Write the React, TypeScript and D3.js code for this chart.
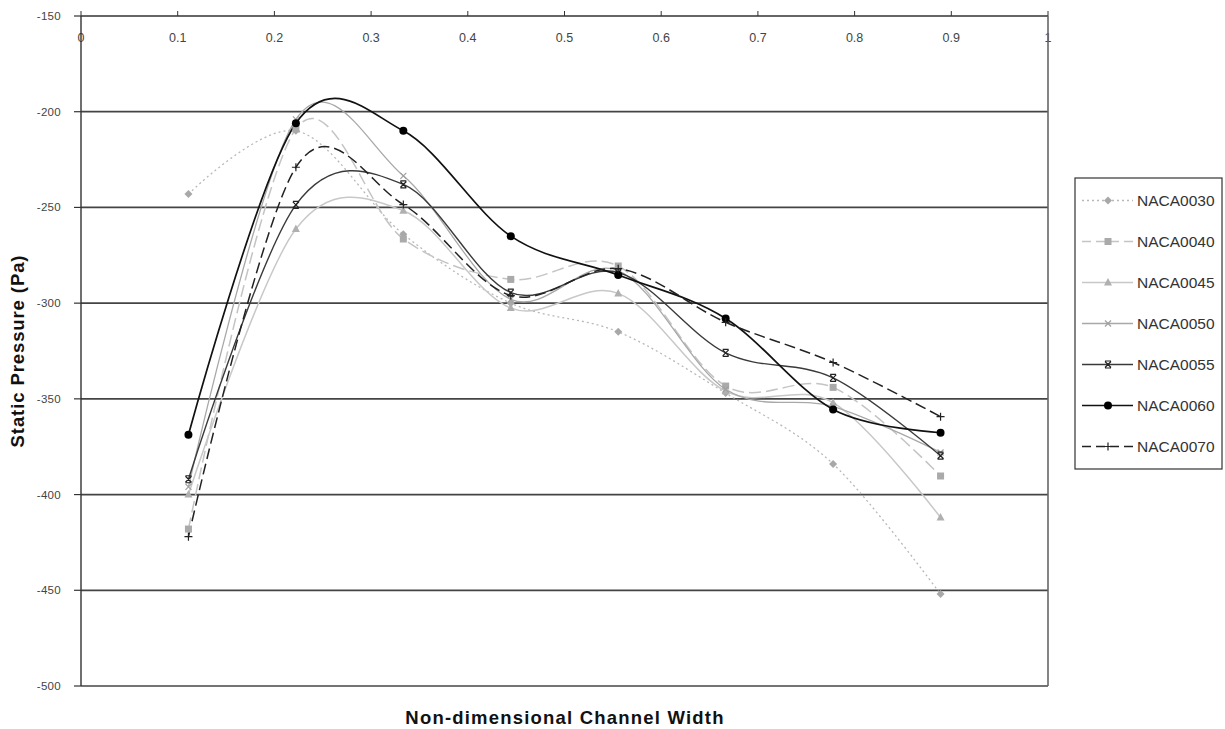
import React from "react";
import * as d3 from "d3";

const xPositions = [1 / 9, 2 / 9, 3 / 9, 4 / 9, 5 / 9, 6 / 9, 7 / 9, 8 / 9];
const xTicks = [0, 0.1, 0.2, 0.3, 0.4, 0.5, 0.6, 0.7, 0.8, 0.9, 1];
const yTicks = [-150, -200, -250, -300, -350, -400, -450, -500];
const gridValues = [-200, -250, -300, -350, -400, -450];

const naca0030 = [-243, -210, -264, -300, -315, -347, -384, -452];
const naca0040 = [-418, -209, -266.5, -287.6, -280.6, -343.3, -344, -390.3];
const naca0045 = [-400, -261.3, -251.7, -302.6, -294.9, -346, -352, -412];
const naca0050 = [-396, -204, -233.5, -298, -283, -345, -354, -378];
const naca0055 = [-392, -248.7, -238, -294.5, -284, -326, -339, -379.7];
const naca0060 = [-368.8, -206, -210, -265, -285.3, -308, -355.5, -367.7];
const naca0070 = [-422, -229, -248.5, -296, -282, -310, -331, -359.3];

const seriesNames = ["NACA0030", "NACA0040", "NACA0045", "NACA0050", "NACA0055", "NACA0060", "NACA0070"];
const seriesValues = [naca0030, naca0040, naca0045, naca0050, naca0055, naca0060, naca0070];

type Style = { stroke: string; width: number; dash: string; marker: string; mfill: string };
const styles: Style[] = [
  { stroke: "#b8b8b8", width: 1.3, dash: "2,3", marker: "diamond", mfill: "#a8a8a8" },
  { stroke: "#c4c4c4", width: 1.5, dash: "12,5", marker: "square", mfill: "#aaaaaa" },
  { stroke: "#c8c8c8", width: 1.5, dash: "", marker: "triangle", mfill: "#b0b0b0" },
  { stroke: "#a8a8a8", width: 1.3, dash: "", marker: "x", mfill: "#a0a0a0" },
  { stroke: "#3a3a3a", width: 1.4, dash: "", marker: "star", mfill: "#222" },
  { stroke: "#111", width: 1.7, dash: "", marker: "circle", mfill: "#000" },
  { stroke: "#222", width: 1.5, dash: "11,5", marker: "plus", mfill: "#222" },
];

function Marker({ type, x, y, fill }: { type: string; x: number; y: number; fill: string }) {
  switch (type) {
    case "diamond":
      return <path d={`M${x},${y - 4}L${x + 4},${y}L${x},${y + 4}L${x - 4},${y}Z`} fill={fill} />;
    case "square":
      return <rect x={x - 3.5} y={y - 3.5} width={7} height={7} fill={fill} />;
    case "triangle":
      return <path d={`M${x},${y - 4.5}L${x + 4},${y + 3}L${x - 4},${y + 3}Z`} fill={fill} />;
    case "x":
      return (
        <path d={`M${x - 3},${y - 3}L${x + 3},${y + 3}M${x - 3},${y + 3}L${x + 3},${y - 3}`} stroke={fill} strokeWidth={1.2} />
      );
    case "star":
      return (
        <path
          d={`M${x - 3},${y - 3}L${x + 3},${y + 3}M${x - 3},${y + 3}L${x + 3},${y - 3}M${x - 3},${y - 3.5}L${x + 3},${y - 3.5}M${x - 3},${y + 3.5}L${x + 3},${y + 3.5}`}
          stroke={fill}
          strokeWidth={1.2}
        />
      );
    case "circle":
      return <circle cx={x} cy={y} r={4} fill={fill} />;
    case "plus":
      return <path d={`M${x - 4},${y}L${x + 4},${y}M${x},${y - 4}L${x},${y + 4}`} stroke={fill} strokeWidth={1.2} />;
  }
  return null;
}

export default function App() {
  const x = d3.scaleLinear().domain([0, 1]).range([81, 1048]);
  const y = d3.scaleLinear().domain([-500, -150]).range([686, 16]);
  const line = d3
    .line<number>()
    .x((_, i) => x(xPositions[i]))
    .y((d) => y(d))
    .curve(d3.curveCardinal.tension(0));

  const font = "'Liberation Sans', Arial, sans-serif";
  const legendTop = 200.5;
  const legendStep = 41;

  return (
    <svg
      width={1225}
      height={729}
      style={{ position: "absolute", left: 0, top: 0, background: "#fff" }}
      fontFamily={font}
    >
      <rect width={1225} height={729} fill="#fff" />
      {/* gridlines */}
      {gridValues.map((v) => (
        <line key={v} x1={81} x2={1048} y1={y(v)} y2={y(v)} stroke="#444" strokeWidth={1.7} />
      ))}
      {/* bottom and right border */}
      <line x1={81} x2={1048} y1={686} y2={686} stroke="#444" strokeWidth={1.7} />

      {/* series */}
      {seriesValues.map((vals, si) => (
        <path
          key={seriesNames[si]}
          d={line(vals) || ""}
          fill="none"
          stroke={styles[si].stroke}
          strokeWidth={styles[si].width}
          strokeDasharray={styles[si].dash || undefined}
        />
      ))}
      {seriesValues.map((vals, si) =>
        vals.map((v, i) => (
          <Marker key={`${si}-${i}`} type={styles[si].marker} x={x(xPositions[i])} y={y(v)} fill={styles[si].mfill} />
        ))
      )}

      {/* top x axis */}
      {xTicks.map((t) => (
        <g key={t}>
          <line x1={x(t)} x2={x(t)} y1={11} y2={16} stroke="#333" strokeWidth={1} />
          <text x={x(t)} y={42} textAnchor="middle" fontSize={12.5} fill="#444">
            {String(t)}
          </text>
        </g>
      ))}
      <line x1={81} x2={1048} y1={16} y2={16} stroke="#333" strokeWidth={1.3} />
      <line x1={1048} x2={1048} y1={16} y2={686} stroke="#666" strokeWidth={1.6} />

      {/* left y axis */}
      <line x1={81} x2={81} y1={16} y2={686} stroke="#333" strokeWidth={1.4} />
      {yTicks.map((t) => (
        <g key={t}>
          <line x1={74} x2={81} y1={y(t)} y2={y(t)} stroke="#333" strokeWidth={1.2} />
          <text x={61} y={y(t)} dy="0.35em" textAnchor="end" fontSize={11.5} fill="#444" letterSpacing={0.3}>
            {String(t)}
          </text>
        </g>
      ))}

      {/* axis titles */}
      <text
        transform={`translate(24,351) rotate(-90)`}
        textAnchor="middle"
        fontSize={18.5}
        fontWeight="bold"
        fill="#111"
        letterSpacing={0.9}
      >
        Static Pressure (Pa)
      </text>
      <text x={565} y={724} textAnchor="middle" fontSize={18.5} fontWeight="bold" fill="#111" letterSpacing={1.2}>
        Non-dimensional Channel Width
      </text>

      {/* legend */}
      <rect x={1075} y={178} width={147} height={291} fill="#fff" stroke="#333" strokeWidth={1.2} />
      {seriesNames.map((name, si) => {
        const ly = legendTop + si * legendStep;
        return (
          <g key={name}>
            <line
              x1={1082}
              x2={1133}
              y1={ly}
              y2={ly}
              stroke={styles[si].stroke}
              strokeWidth={styles[si].width}
              strokeDasharray={styles[si].dash ? (si === 0 ? "2,3" : "9,5") : undefined}
            />
            <Marker type={styles[si].marker} x={1108} y={ly} fill={styles[si].mfill} />
            <text x={1137} y={ly} dy="0.36em" fontSize={15.5} fill="#333">
              {name}
            </text>
          </g>
        );
      })}
    </svg>
  );
}
